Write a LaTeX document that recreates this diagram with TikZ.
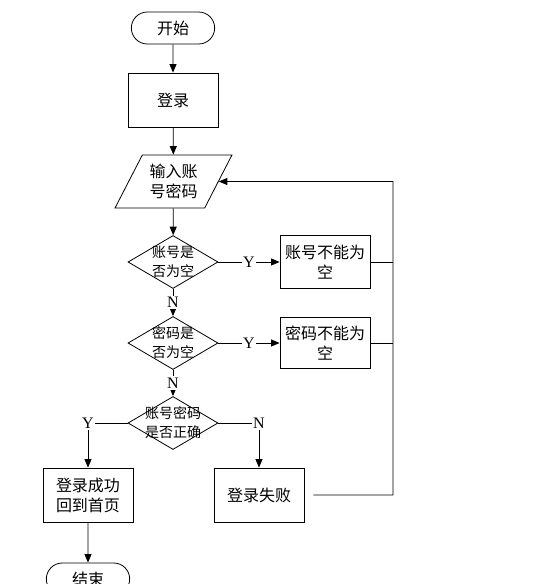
\documentclass[tikz,border=0pt]{standalone}
\usepackage{fontspec}
\setmainfont{Liberation Serif}
\newfontfamily\cjk{Noto Sans CJK SC}
\usetikzlibrary{shapes.geometric,shapes.misc,arrows.meta}

\begin{document}
\begin{tikzpicture}[x=1pt,y=-1pt,
    line width=0.8pt,
    zh/.style={font=\cjk\fontsize{16}{20}\selectfont, align=center},
    term/.style={rounded rectangle, draw, zh, minimum width=90pt, minimum height=32pt},
    proc/.style={rectangle, draw, zh, minimum width=90pt, minimum height=54pt},
    io/.style={trapezium, trapezium left angle=60, trapezium right angle=120,
        trapezium stretches=true, draw, zh, minimum width=117pt, minimum height=53pt},
    dec/.style={diamond, draw, inner sep=0pt, minimum width=90pt, minimum height=53pt},
    dtxt/.style={font=\cjk\fontsize{14}{19}\selectfont, align=center, inner sep=0pt},
    lbl/.style={fill=white, inner sep=1.5pt, font=\fontsize{16}{16}\selectfont},
    arr/.style={-{Triangle[length=8.5pt,width=7pt]}}]

    % 画布
    \useasboundingbox (0,0) rectangle (537,584);

    % 主流程
    \node[term] (start) at (173,28) {开始};
    \node[proc] (login) at (173,100) {登录};
    \node[io] (inp) at (173.5,181.5) {输入账\\号密码};

    % 判断
    \node[dec] (d1) at (173,262) {};
    \node[dtxt] at (d1) {账号是\\否为空};
    \node[dec] (d2) at (173,343) {};
    \node[dtxt] at (d2) {密码是\\否为空};
    \node[dec] (d3) at (173,423) {};
    \node[dtxt] at (d3) {账号密码\\是否正确};

    % 提示框
    \node[proc, minimum height=53pt] (e1) at (325,262) {账号不能为\\空};
    \node[proc, minimum height=51pt] (e2) at (325,343) {密码不能为\\空};
    \node[proc] (ok) at (88,495) {登录成功\\回到首页};
    \node[proc] (fail) at (259,495) {登录失败};
    \node[term] (end) at (88,579) {结束};

    % 返回线的位置
    \coordinate (ret) at (393,181.5);

    % 连线
    \draw[arr] (start) -- (login);
    \draw[arr] (login) -- (inp);
    \draw[arr] (inp) -- (d1);
    \draw[arr] (d1) -- node[lbl] {Y} (e1);
    \draw[arr] (d1) -- node[lbl] {N} (d2);
    \draw[arr] (d2) -- node[lbl] {Y} (e2);
    \draw[arr] (d2) -- node[lbl] {N} (d3);
    \draw[arr] (d3) -| node[lbl] {Y} (ok);
    \draw[arr] (d3) -| node[lbl] {N} (fail);
    \draw[arr] (ok) -- (end);

    % 回到输入
    \draw (e1) -- (e1 -| ret);
    \draw (e2) -- (e2 -| ret);
    \draw[arr] ([xshift=9pt]fail.east) -| (ret) -- (inp.east);

\end{tikzpicture}
\end{document}
